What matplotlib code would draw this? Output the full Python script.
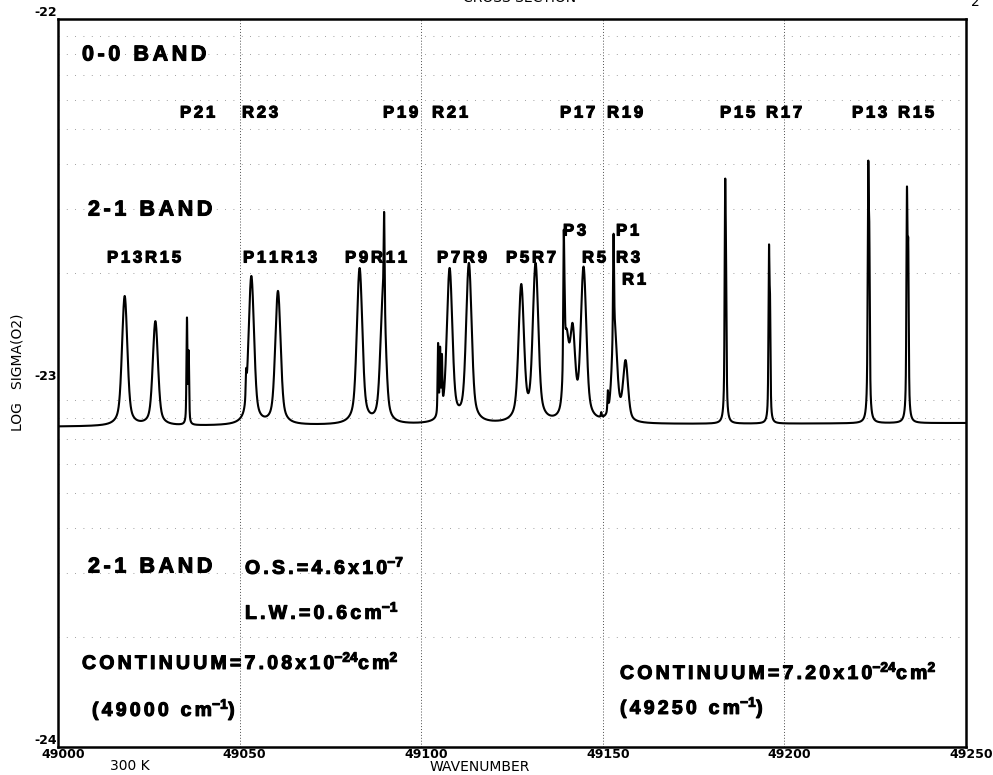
import numpy as np
import matplotlib
matplotlib.use("Agg")
import matplotlib.pyplot as plt
import matplotlib.patheffects as pe
from matplotlib.transforms import ScaledTranslation

plt.rcParams['font.family'] = ['Liberation Sans', 'DejaVu Sans']
plt.rcParams['mathtext.default'] = 'regular'

# continuum level (log10 sigma) at both ends of the range
cont_wn = [49000, 49250]
cont_log = [-23.12, -23.11]

# 2-1 band lines (broad): position (cm-1) and peak log10 sigma
broad_pos = [49018.36, 49026.81, 49027.39, 49053.23, 49053.67, 49060.56, 49061.02,
             49083.04, 49089.51, 49107.82, 49113.13, 49127.55, 49131.49,
             49140.00, 49141.67, 49144.70, 49153.23, 49154.61, 49156.26]
broad_log = [-22.761, -22.83, -22.93, -22.706, -22.78, -22.747, -22.854,
             -22.684, -22.72, -22.684, -22.670, -22.728, -22.67,
             -22.85, -22.835, -22.68, -22.80, -23.03, -22.937]

# 0-0 band lines (narrow)
narrow_pos = [49035.51, 49035.98, 49051.80, 49052.08, 49089.79, 49104.65, 49105.20,
              49105.70, 49139.25, 49139.47, 49149.57, 49151.39, 49152.96, 49183.70,
              49183.92, 49195.76, 49196.03, 49223.09, 49223.36, 49233.75, 49234.08]
narrow_log = [-22.82, -22.91, -22.96, -22.98, -22.53, -22.89, -22.90,
              -22.92, -22.58, -22.72, -23.08, -23.02, -22.59, -22.44,
              -22.62, -22.62, -22.75, -22.39, -22.55, -22.46, -22.60]

xticks = [49000, 49050, 49100, 49150, 49200, 49250]
yticks = [-24, -23, -22]

top_labels = ['P21', 'R23', 'P19', 'R21', 'P17', 'R19', 'P15', 'R17', 'P13', 'R15']
top_label_x = [180, 242, 383, 432, 560, 607, 720, 766, 852, 898]


def profile(d, w):
    # pseudo-Voigt, half width w
    u = (d / w) ** 2
    return 0.5 / (1 + u) + 0.5 * np.exp(-np.log(2) * u)


W_BROAD, W_NARROW = 0.75, 0.14
pos = np.array(broad_pos + narrow_pos)
tgt = np.array(broad_log + narrow_log)
wid = np.array([W_BROAD] * len(broad_pos) + [W_NARROW] * len(narrow_pos))

base = lambda x: 10 ** np.interp(x, cont_wn, cont_log)
M = profile(pos[:, None] - pos[None, :], wid[None, :])
T = 10 ** tgt - base(pos)

# line strengths that hit the read peak heights, non-negative
keep = np.ones(len(pos), bool)
amp = np.zeros(len(pos))
while True:
    a = np.linalg.solve(M[np.ix_(keep, keep)], T[keep])
    if (a >= 0).all():
        amp[keep] = a
        break
    idx = np.where(keep)[0]
    keep[idx[a < 0]] = False

x = np.linspace(49000, 49250, 25001)
sigma = base(x) + (amp[None, :] * profile(x[:, None] - pos[None, :], wid[None, :])).sum(axis=1)

W, H = 993, 775
fig = plt.figure(figsize=(W / 100, H / 100), dpi=100)
ax = fig.add_axes([58 / W, 28 / H, 908 / W, 728 / H])


def px(xp, yp):
    return xp / W, 1 - yp / H


def spaced(s, sp='\u2006'):
    # letter spacing of the old plotter lettering (outside math parts)
    parts = s.split('$')
    for i in range(0, len(parts), 2):
        parts[i] = sp.join(parts[i])
    return '$'.join(parts)


ax.plot(x, np.log10(sigma), color='black', lw=1.5)
ax.set_xlim(49000, 49250)
ax.set_ylim(-24, -22)

for v in [49050, 49100, 49150, 49200]:
    ax.axvline(v, color='0.3', lw=0.7, ls=(0, (1, 2)), zorder=0)
for dec in [-24, -23]:
    for k in range(2, 10):
        ax.axhline(dec + np.log10(k), color='0.5', lw=0.6, ls=(0, (1, 9)), zorder=0)

for s in ax.spines.values():
    s.set_linewidth(1.8)

ax.set_xticks(xticks)
ax.set_xticklabels([str(t) for t in xticks], fontfamily='DejaVu Sans', fontsize=9,
                   fontweight='bold')
ax.set_yticks(yticks)
ax.set_yticklabels([str(t) for t in yticks], fontfamily='DejaVu Sans', fontsize=9,
                   fontweight='bold')
ax.tick_params(length=0, pad=1)
for lbl in ax.get_yticklabels():
    lbl.set_va('bottom')
for lbl in ax.get_xticklabels():
    lbl.set_transform(lbl.get_transform() + ScaledTranslation(0.05, 0, fig.dpi_scale_trans))

heavy = [pe.withStroke(linewidth=0.8, foreground='black')]
bold = dict(fontweight='bold', color='black', va='center', path_effects=heavy)

fig.text(*px(82, 55), spaced('0-0 BAND'), fontsize=15.5, **bold)
for lab, xp in zip(top_labels, top_label_x):
    fig.text(*px(xp, 113), spaced(lab), fontsize=12, **bold)

fig.text(*px(88, 210), spaced('2-1 BAND'), fontsize=15.5, **bold)
for lab, xp, yp in [('P13R15', 107, 258), ('P11R13', 243, 258), ('P9R11', 345, 258),
                    ('P7R9', 437, 258), ('P5R7', 506, 258), ('P3', 563, 231),
                    ('R5', 582, 258), ('P1', 616, 231), ('R3', 616, 258), ('R1', 622, 280)]:
    fig.text(*px(xp, yp), spaced(lab), fontsize=12, **bold)

fig.text(*px(88, 567), spaced('2-1 BAND'), fontsize=15.5, **bold)
fig.text(*px(245, 567), spaced('O.S.=4.6x10$^{-7}$'), fontsize=14, **bold)
fig.text(*px(245, 612), spaced('L.W.=0.6cm$^{-1}$'), fontsize=14, **bold)
fig.text(*px(82, 662), spaced('CONTINUUM=7.08x10$^{-24}$cm$^{2}$'), fontsize=14, **bold)
fig.text(*px(92, 710), spaced('(49000 cm$^{-1}$)'), fontsize=14, **bold)
fig.text(*px(620, 672), spaced('CONTINUUM=7.20x10$^{-24}$cm$^{2}$'), fontsize=14, **bold)
fig.text(*px(620, 708), spaced('(49250 cm$^{-1}$)'), fontsize=14, **bold)

plain = dict(fontsize=10, fontfamily='DejaVu Sans', ha='center', va='center')
fig.text(*px(130, 766), '300 K', **plain)
fig.text(*px(480, 767), 'WAVENUMBER', **plain)
fig.text(*px(18, 372), 'LOG   SIGMA(O2)', rotation=90, **plain)
fig.text(*px(520, -2), 'CROSS SECTION', **plain)
fig.text(*px(975, 2), '2', **plain)

fig.savefig('out.png', dpi=100)
